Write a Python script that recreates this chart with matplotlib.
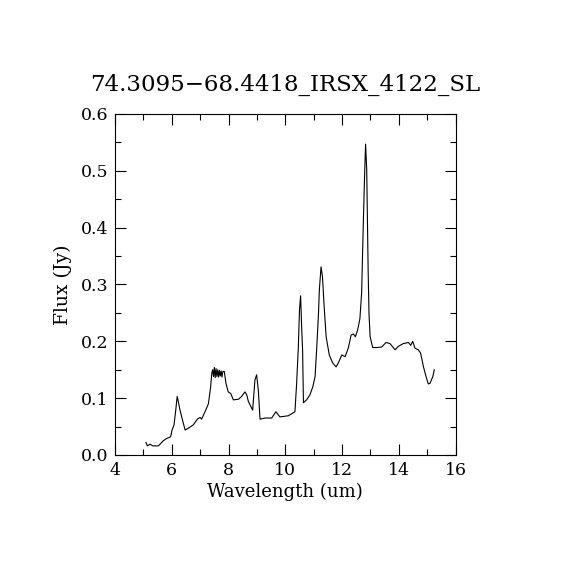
import numpy as np
import matplotlib
matplotlib.use("Agg")
from matplotlib import pyplot as plt
from matplotlib.ticker import MultipleLocator

title = "74.3095\u221268.4418_IRSX_4122_SL"

# wavelength (um) and flux (Jy)
wave = [5.09, 5.14, 5.23, 5.33, 5.53, 5.70, 5.82, 5.96, 6.01, 6.08, 6.14, 6.19,
        6.23, 6.29, 6.39, 6.47, 6.58, 6.76, 6.90, 7.00, 7.05, 7.17, 7.29, 7.37,
        7.41, 7.44, 7.47, 7.50, 7.53, 7.56, 7.59, 7.62, 7.65, 7.68, 7.71, 7.74,
        7.77, 7.80, 7.85, 7.91, 7.99, 8.08, 8.17, 8.35, 8.46, 8.58, 8.64, 8.70,
        8.85, 8.93, 8.99, 9.05, 9.11, 9.29, 9.52, 9.67, 9.81, 10.11, 10.34, 10.40,
        10.46, 10.50, 10.54, 10.58, 10.61, 10.64, 10.75, 10.87, 10.97, 11.05, 11.11,
        11.17, 11.20, 11.26, 11.31, 11.37, 11.44, 11.55, 11.67, 11.79, 11.87, 11.99,
        12.11, 12.22, 12.32, 12.40, 12.47, 12.55, 12.63, 12.69, 12.75, 12.80, 12.83,
        12.87, 12.92, 12.95, 12.99, 13.08, 13.22, 13.40, 13.55, 13.69, 13.87, 13.98,
        14.16, 14.34, 14.42, 14.49, 14.57, 14.69, 14.77, 14.87, 14.96, 15.04, 15.10,
        15.20, 15.25]
flux = [0.022, 0.016, 0.019, 0.016, 0.016, 0.025, 0.029, 0.032, 0.044, 0.053, 0.079, 0.103,
        0.094, 0.079, 0.059, 0.044, 0.047, 0.053, 0.063, 0.066, 0.063, 0.076, 0.090, 0.120,
        0.144, 0.150, 0.138, 0.154, 0.136, 0.152, 0.138, 0.150, 0.137, 0.149, 0.139, 0.148,
        0.137, 0.147, 0.147, 0.126, 0.111, 0.108, 0.097, 0.098, 0.103, 0.111, 0.106, 0.094,
        0.079, 0.132, 0.141, 0.114, 0.063, 0.065, 0.065, 0.076, 0.067, 0.069, 0.076, 0.126,
        0.190, 0.255, 0.280, 0.220, 0.185, 0.092, 0.097, 0.106, 0.120, 0.138, 0.190,
        0.249, 0.290, 0.331, 0.314, 0.261, 0.208, 0.176, 0.162, 0.155, 0.162, 0.176,
        0.173, 0.188, 0.211, 0.213, 0.208, 0.220, 0.240, 0.285, 0.408, 0.501, 0.547,
        0.501, 0.325, 0.249, 0.208, 0.189, 0.189, 0.190, 0.198, 0.196, 0.185, 0.191,
        0.196, 0.198, 0.193, 0.200, 0.188, 0.185, 0.179, 0.155, 0.138, 0.125, 0.126,
        0.138, 0.150]

plt.rcParams['font.family'] = ['DejaVu Serif']

fig = plt.figure(figsize=(5.7, 5.7), dpi=100)
ax = fig.add_axes([0.2018, 0.2018, 0.5974, 0.5982])
ax.plot(wave, flux, color='black', lw=0.8)

ax.set_xlim(4, 16)
ax.set_ylim(0, 0.6)
ax.xaxis.set_major_locator(MultipleLocator(2))
ax.xaxis.set_minor_locator(MultipleLocator(1))
ax.yaxis.set_major_locator(MultipleLocator(0.1))
ax.yaxis.set_minor_locator(MultipleLocator(0.05))
ax.yaxis.set_major_formatter(plt.FuncFormatter(lambda v, p: f"{v:.1f}"))
ax.tick_params(which='both', direction='in', top=True, right=True, width=0.8,
               labelsize=12.5)
ax.tick_params(which='major', length=8, pad=5)
ax.tick_params(which='minor', length=4)
for s in ax.spines.values():
    s.set_linewidth(0.8)

ax.set_xlabel("Wavelength (um)", fontsize=13, labelpad=3)
ax.set_ylabel("Flux (Jy)", fontsize=13.5, labelpad=6)
ax.set_title(title, fontsize=16.5, pad=17)

fig.savefig("out.png", dpi=100)
